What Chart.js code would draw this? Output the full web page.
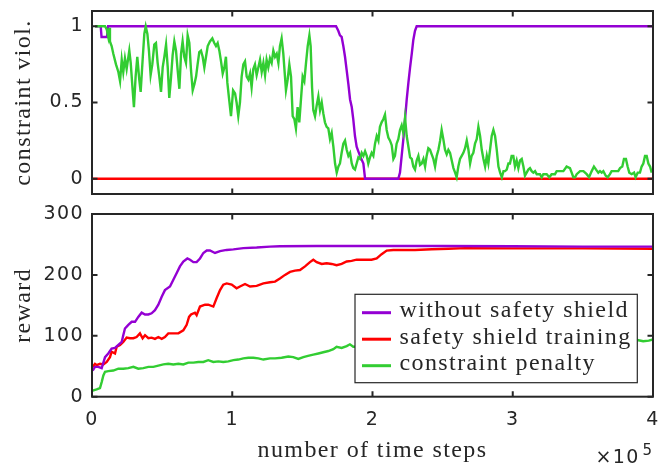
<!DOCTYPE html>
<html><head><meta charset="utf-8">
<script src="https://cdn.jsdelivr.net/npm/chart.js@4/dist/chart.umd.min.js"></script>
<style>
html,body{margin:0;padding:0;background:#fff;overflow:hidden;}
#wrap{position:relative;width:669px;height:464px;background:#fff;}
#c1{position:absolute;left:0;top:0;width:669px;height:204px;}
#c2{position:absolute;left:0;top:204px;width:669px;height:260px;}
</style></head><body>
<div id="wrap"><canvas id="c1" width="669" height="204"></canvas><canvas id="c2" width="669" height="260"></canvas></div>
<script>
// ---- data (x in units of 10^5 time steps) ----
const xTicks = [0, 1, 2, 3, 4];
const xTickLabels = ['0', '1', '2', '3', '4'];
const violTicks = [0, 0.5, 1];
const rewardTicks = [0, 100, 200, 300];
const seriesNames = ['without safety shield', 'safety shield training', 'constraint penalty'];

const violNoShield = [[0.021,1],[0.062,1],[0.068,0.93],[0.107,0.93],[0.115,1],[1.740,1],[1.756,0.97],[1.768,0.94],[1.780,0.93],[1.792,0.87],[1.804,0.80],[1.816,0.71],[1.828,0.62],[1.840,0.52],[1.852,0.47],[1.863,0.39],[1.875,0.28],[1.887,0.21],[1.899,0.18],[1.911,0.15],[1.935,0.10],[1.947,0],[2.184,0],[2.196,0.04],[2.208,0.15],[2.220,0.26],[2.232,0.39],[2.244,0.52],[2.256,0.63],[2.268,0.73],[2.280,0.82],[2.291,0.91],[2.303,0.97],[2.315,1],[4.0,1]];
const violShield = [[0,0],[4,0]];
const violPenalty = [[0.021,1.00],[0.093,1.00],[0.105,0.98],[0.116,0.93],[0.124,0.99],[0.128,0.90],[0.140,0.87],[0.152,0.82],[0.171,0.75],[0.188,0.70],[0.200,0.64],[0.212,0.78],[0.223,0.70],[0.235,0.79],[0.247,0.72],[0.266,0.84],[0.276,0.76],[0.290,0.58],[0.299,0.47],[0.311,0.67],[0.323,0.80],[0.337,0.65],[0.347,0.57],[0.361,0.78],[0.373,0.95],[0.383,1.00],[0.395,0.95],[0.406,0.84],[0.418,0.68],[0.430,0.75],[0.444,0.88],[0.456,0.89],[0.468,0.76],[0.480,0.67],[0.492,0.57],[0.504,0.73],[0.516,0.80],[0.528,0.88],[0.540,0.73],[0.551,0.53],[0.563,0.66],[0.575,0.81],[0.587,0.90],[0.599,0.84],[0.611,0.71],[0.623,0.59],[0.635,0.82],[0.646,0.90],[0.658,0.80],[0.670,0.76],[0.682,0.94],[0.694,0.89],[0.706,0.71],[0.718,0.58],[0.730,0.62],[0.742,0.67],[0.753,0.75],[0.765,0.83],[0.777,0.84],[0.789,0.80],[0.801,0.73],[0.813,0.80],[0.825,0.87],[0.841,0.90],[0.858,0.92],[0.872,0.89],[0.884,0.87],[0.896,0.89],[0.908,0.84],[0.920,0.77],[0.932,0.69],[0.944,0.73],[0.955,0.80],[0.965,0.63],[0.979,0.51],[0.991,0.41],[1.006,0.58],[1.020,0.56],[1.031,0.50],[1.043,0.41],[1.055,0.50],[1.067,0.67],[1.079,0.75],[1.091,0.77],[1.103,0.67],[1.115,0.65],[1.127,0.69],[1.138,0.60],[1.150,0.72],[1.162,0.75],[1.174,0.68],[1.186,0.73],[1.198,0.78],[1.210,0.70],[1.222,0.76],[1.234,0.68],[1.245,0.78],[1.257,0.73],[1.269,0.79],[1.281,0.76],[1.293,0.84],[1.305,0.80],[1.317,0.82],[1.329,0.76],[1.340,0.87],[1.352,0.92],[1.364,0.82],[1.376,0.67],[1.383,0.58],[1.395,0.65],[1.407,0.75],[1.419,0.67],[1.431,0.41],[1.443,0.39],[1.454,0.33],[1.466,0.47],[1.478,0.37],[1.490,0.52],[1.502,0.67],[1.514,0.64],[1.526,0.76],[1.538,0.87],[1.550,0.94],[1.559,0.87],[1.569,0.60],[1.578,0.45],[1.590,0.41],[1.602,0.48],[1.614,0.54],[1.626,0.45],[1.638,0.50],[1.649,0.43],[1.661,0.37],[1.673,0.34],[1.685,0.33],[1.697,0.26],[1.709,0.30],[1.721,0.21],[1.733,0.10],[1.745,0.04],[1.757,0.08],[1.768,0.10],[1.780,0.17],[1.792,0.23],[1.804,0.25],[1.816,0.19],[1.828,0.15],[1.840,0.17],[1.852,0.10],[1.863,0.07],[1.875,0.06],[1.887,0.10],[1.899,0.14],[1.911,0.13],[1.923,0.17],[1.935,0.15],[1.947,0.18],[1.959,0.15],[1.970,0.10],[1.982,0.14],[1.994,0.17],[2.006,0.15],[2.018,0.23],[2.030,0.28],[2.042,0.25],[2.053,0.34],[2.065,0.37],[2.077,0.39],[2.089,0.42],[2.101,0.32],[2.113,0.27],[2.125,0.25],[2.137,0.22],[2.149,0.13],[2.160,0.15],[2.172,0.23],[2.184,0.26],[2.196,0.32],[2.208,0.35],[2.220,0.30],[2.232,0.40],[2.244,0.28],[2.256,0.21],[2.268,0.14],[2.280,0.13],[2.291,0.08],[2.303,0.06],[2.315,0.12],[2.327,0.15],[2.339,0.09],[2.351,0.10],[2.363,0.13],[2.375,0.08],[2.386,0.15],[2.398,0.20],[2.410,0.19],[2.422,0.16],[2.434,0.13],[2.446,0.08],[2.458,0.15],[2.470,0.19],[2.482,0.25],[2.493,0.32],[2.505,0.26],[2.517,0.19],[2.529,0.16],[2.541,0.19],[2.553,0.17],[2.565,0.12],[2.577,0.07],[2.589,0.04],[2.600,0.01],[2.612,0.08],[2.624,0.13],[2.636,0.15],[2.648,0.17],[2.660,0.20],[2.672,0.25],[2.684,0.19],[2.696,0.10],[2.707,0.15],[2.719,0.17],[2.731,0.23],[2.743,0.26],[2.755,0.34],[2.767,0.28],[2.779,0.19],[2.791,0.13],[2.803,0.08],[2.815,0.15],[2.826,0.10],[2.838,0.19],[2.850,0.28],[2.862,0.32],[2.874,0.28],[2.886,0.19],[2.898,0.08],[2.910,0.04],[2.922,0.01],[2.934,0.05],[2.945,0.05],[2.957,0.06],[2.969,0.10],[2.980,0.10],[2.992,0.15],[3.004,0.15],[3.016,0.08],[3.028,0.12],[3.040,0.07],[3.052,0.12],[3.064,0.13],[3.076,0.08],[3.087,0.02],[3.099,0.04],[3.111,0.06],[3.123,0.07],[3.135,0.05],[3.147,0.04],[3.159,0.05],[3.171,0.03],[3.194,0.03],[3.206,0.01],[3.218,0.03],[3.242,0.03],[3.261,0.01],[3.277,0.03],[3.301,0.03],[3.313,0.05],[3.337,0.05],[3.361,0.05],[3.384,0.08],[3.408,0.07],[3.420,0.04],[3.432,0.01],[3.444,0.01],[3.456,0.03],[3.480,0.05],[3.504,0.05],[3.527,0.03],[3.544,0.01],[3.563,0.05],[3.579,0.08],[3.594,0.06],[3.610,0.04],[3.622,0.05],[3.634,0.04],[3.646,0.05],[3.663,0.02],[3.677,0.01],[3.693,0.03],[3.705,0.05],[3.729,0.05],[3.752,0.05],[3.765,0.07],[3.781,0.08],[3.793,0.13],[3.807,0.13],[3.819,0.08],[3.831,0.04],[3.848,0.03],[3.865,0.04],[3.876,0.01],[3.891,0.04],[3.907,0.04],[3.919,0.08],[3.931,0.10],[3.943,0.15],[3.955,0.15],[3.967,0.10],[3.979,0.08],[3.991,0.04]];

const rewardNoShield = [[0.005,43],[0.021,49],[0.045,49],[0.069,47],[0.093,65],[0.116,71],[0.140,79],[0.164,80],[0.188,85],[0.212,90],[0.223,101],[0.235,112],[0.259,118],[0.283,123],[0.307,123],[0.330,131],[0.354,138],[0.378,135],[0.402,135],[0.425,137],[0.449,142],[0.473,151],[0.497,164],[0.520,175],[0.556,181],[0.580,192],[0.604,203],[0.627,214],[0.651,222],[0.680,227],[0.699,225],[0.723,221],[0.746,221],[0.770,227],[0.794,236],[0.818,240],[0.841,240],[0.877,236],[0.913,239],[0.960,241],[1.008,242],[1.079,244],[1.174,245],[1.269,246.5],[1.340,247],[1.600,247.5],[2.000,247.5],[2.500,247.5],[3.000,247],[3.500,246.5],[4.000,246.5]];
const rewardShield = [[0.005,49],[0.021,54],[0.033,52],[0.057,54],[0.081,53],[0.105,57],[0.128,65],[0.140,74],[0.164,71],[0.176,82],[0.200,85],[0.223,90],[0.247,97],[0.271,96],[0.295,96],[0.318,98],[0.342,104],[0.361,96],[0.378,101],[0.402,96],[0.425,97],[0.449,95],[0.473,98],[0.497,95],[0.520,98],[0.544,104],[0.580,104],[0.616,104],[0.651,109],[0.675,118],[0.692,131],[0.706,135],[0.734,138],[0.746,134],[0.770,148],[0.806,151],[0.829,151],[0.865,148],[0.889,162],[0.913,175],[0.936,184],[0.960,186],[0.996,184],[1.031,178],[1.055,181],[1.091,185],[1.127,181],[1.174,182],[1.222,186],[1.269,188],[1.305,189],[1.340,194],[1.376,200],[1.412,205],[1.447,207],[1.483,208],[1.519,214],[1.554,221],[1.578,225],[1.602,221],[1.638,218],[1.673,219],[1.709,218],[1.744,216],[1.780,218],[1.816,222],[1.851,223],[1.887,225],[1.922,225],[1.958,225],[1.993,225],[2.030,227],[2.065,234],[2.101,240],[2.148,241],[2.208,241],[2.303,241],[2.422,242],[2.541,243],[2.660,244],[3.000,243.5],[3.500,243.5],[4.000,243]];
const rewardPenalty = [[0.005,10],[0.033,12],[0.057,14],[0.069,24],[0.081,35],[0.093,41],[0.116,42],[0.152,43],[0.188,46],[0.223,46],[0.259,47],[0.295,49],[0.330,46],[0.366,47],[0.402,49],[0.437,49],[0.473,51],[0.509,53],[0.544,54],[0.580,53],[0.616,54],[0.651,53],[0.687,56],[0.723,56],[0.758,57],[0.794,57],[0.829,60],[0.865,57],[0.901,58],[0.936,57],[0.972,58],[1.008,60],[1.043,61],[1.079,63],[1.115,64],[1.150,64],[1.186,63],[1.222,61],[1.269,63],[1.305,63],[1.352,64],[1.400,66],[1.435,65],[1.471,62],[1.507,65],[1.540,67],[1.578,69],[1.614,71],[1.649,73],[1.685,75],[1.721,78],[1.744,82],[1.780,80],[1.816,83],[1.839,86],[1.863,82],[3.888,93],[3.930,91],[3.970,92],[4.000,94]];

// ---- styles ----
const AX = '#262626';
const TICK_FONT = {family: "'DejaVu Sans'", size: 19};
const TITLE_FONT = {family: "'Liberation Serif'", size: 24};
const COL = ['rgb(148,0,211)', 'rgb(255,0,0)', 'rgb(50,205,50)'];
const ORDER = [1, 2, 0];
const SPACING = '1.4px';

function ds(i, pts) {
  return {label: seriesNames[i], data: pts.map(p => ({x: p[0], y: p[1]})),
    borderColor: COL[i], backgroundColor: COL[i], borderWidth: 2.4, pointRadius: 0,
    tension: 0, fill: false, order: ORDER[i]};
}

function noPad(s) { s.paddingTop = 0; s.paddingBottom = 0; s.paddingLeft = 0; s.paddingRight = 0; }

const spacingPlugin = {id: 'spacing', beforeDraw(chart) { chart.ctx.letterSpacing = SPACING; }};

const boxPlugin = {
  id: 'matlabBox',
  afterDatasetsDraw(chart, args, opts) {
    const {ctx, chartArea: a, scales} = chart;
    ctx.save();
    ctx.strokeStyle = AX; ctx.lineWidth = 2;
    ctx.strokeRect(a.left, a.top, a.right - a.left, a.bottom - a.top);
    const L = 5.5;
    ctx.beginPath();
    for (const v of opts.xt) {
      const px = scales.x.getPixelForValue(v);
      ctx.moveTo(px, a.bottom); ctx.lineTo(px, a.bottom - L);
      ctx.moveTo(px, a.top); ctx.lineTo(px, a.top + L);
    }
    for (const v of opts.yt) {
      const py = scales.y.getPixelForValue(v);
      ctx.moveTo(a.left, py); ctx.lineTo(a.left + L, py);
      ctx.moveTo(a.right, py); ctx.lineTo(a.right - L, py);
    }
    ctx.stroke();
    ctx.restore();
  }
};

const legendPlugin = {
  id: 'boxLegend',
  afterDraw(chart) {
    const {ctx, chartArea: a} = chart;
    ctx.save();
    ctx.letterSpacing = SPACING;
    const w = 282.3, h = 88.4;
    const L = a.right - 15.7 - w, T = a.bottom - 14 - h;
    ctx.fillStyle = '#fff'; ctx.fillRect(L, T, w, h);
    ctx.strokeStyle = AX; ctx.lineWidth = 1.2; ctx.strokeRect(L, T, w, h);
    ctx.font = "24px 'Liberation Serif'"; ctx.textBaseline = 'middle'; ctx.textAlign = 'left';
    chart.data.datasets.forEach((d, k) => {
      const y = T + 18.4 + k * 26.5;
      ctx.strokeStyle = d.borderColor; ctx.lineWidth = 3;
      ctx.beginPath(); ctx.moveTo(L + 7, y); ctx.lineTo(L + 36, y); ctx.stroke();
      ctx.fillStyle = AX; ctx.fillText(d.label, L + 44.5, y - 1.5);
    });
    ctx.font = "19px 'DejaVu Sans'"; ctx.fillStyle = AX; ctx.textBaseline = 'alphabetic';
    ctx.fillText('\u00d710', 595.5, chart.height - 1);
    ctx.font = "15px 'DejaVu Sans'";
    ctx.fillText('5', 642.5, chart.height - 9.5);
    ctx.restore();
  }
};

function yScale(min, max, ticks, title) {
  return {type: 'linear', min, max,
    afterBuildTicks: s => { s.ticks = ticks.map(v => ({value: v})); },
    afterFit: s => { s.width = 92; noPad(s); },
    grid: {display: false, drawTicks: false}, border: {display: false},
    ticks: {font: TICK_FONT, color: AX, padding: 8, callback: v => String(v)},
    title: {display: true, text: title, font: TITLE_FONT, color: AX, padding: {top: 9.1, bottom: 0}}};
}

new Chart(document.getElementById('c1'), {
  type: 'line',
  data: {datasets: [ds(0, violNoShield), ds(1, violShield), ds(2, violPenalty)]},
  options: {
    responsive: false, animation: false, events: [],
    layout: {padding: {left: 0, right: 16, top: 11, bottom: 10}},
    plugins: {legend: {display: false}, tooltip: {enabled: false}, matlabBox: {xt: xTicks, yt: violTicks}},
    scales: {
      x: {type: 'linear', min: 0, max: 4, display: false},
      y: yScale(-0.1, 1.1, violTicks, 'constraint viol.')
    }
  },
  plugins: [spacingPlugin, boxPlugin]
});

new Chart(document.getElementById('c2'), {
  type: 'line',
  data: {datasets: [ds(0, rewardNoShield), ds(1, rewardShield), ds(2, rewardPenalty)]},
  options: {
    responsive: false, animation: false, events: [],
    layout: {padding: {left: 0, right: 16, top: 10, bottom: 0}},
    plugins: {legend: {display: false}, tooltip: {enabled: false}, matlabBox: {xt: xTicks, yt: rewardTicks}},
    scales: {
      x: {type: 'linear', min: 0, max: 4,
        afterBuildTicks: s => { s.ticks = xTicks.map(v => ({value: v})); },
        afterFit: s => { s.height = 67.3; noPad(s); },
        grid: {display: false, drawTicks: false}, border: {display: false},
        ticks: {font: TICK_FONT, color: AX, padding: 12.4, maxRotation: 0, autoSkip: false,
          callback: (v, i) => xTickLabels[i]},
        title: {display: true, text: 'number of time steps', font: TITLE_FONT, color: AX, padding: {top: 0, bottom: -1.2}}},
      y: yScale(0, 300, rewardTicks, 'reward')
    }
  },
  plugins: [spacingPlugin, boxPlugin, legendPlugin]
});
</script>
</body></html>
